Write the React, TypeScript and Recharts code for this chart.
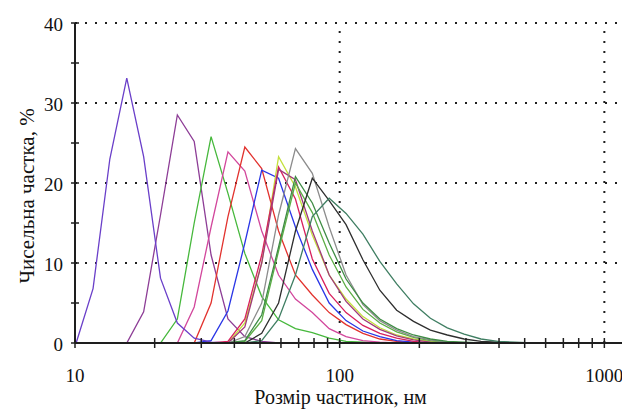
import React from 'react';
import { LineChart, Line, XAxis, YAxis, ReferenceLine, Label } from 'recharts';

// Size classes of the analyser, nm (log-spaced bins)
const sizes = [
  10.1, 11.7, 13.54, 15.69, 18.17, 21.04, 24.36, 28.21, 32.67, 37.84, 43.82, 50.75,
  58.77, 68.06, 78.82, 91.28, 105.7, 122.4, 141.8, 164.2, 190.1, 220.2, 255.0, 295.3,
  342.0, 396.1, 458.7, 531.2, 615.1, 712.4, 825.0, 955.4, 1106, 1281,
];

// Number fraction, % for each sample
const sample01 = [0, 6.8, 23.0, 33.1, 23.3, 8.1, 2.5, 0.6, 0.1, 0, 0, 0, 0, 0, 0, 0, 0, 0, 0, 0, 0, 0, 0, 0, 0, 0, 0, 0, 0, 0, 0, 0, 0, 0];
const sample02 = [0, 0, 0, 0, 3.9, 16.0, 28.5, 25.2, 11.0, 3.0, 0.8, 0.2, 0, 0, 0, 0, 0, 0, 0, 0, 0, 0, 0, 0, 0, 0, 0, 0, 0, 0, 0, 0, 0, 0];
const sample03 = [0, 0, 0, 0, 0, 0, 3.0, 15.0, 25.8, 18.7, 11.2, 5.8, 2.9, 1.8, 1.3, 0.6, 0.2, 0.1, 0, 0, 0, 0, 0, 0, 0, 0, 0, 0, 0, 0, 0, 0, 0, 0];
const sample04 = [0, 0, 0, 0, 0, 0, 0, 4.5, 14.5, 23.9, 21.5, 14.0, 8.5, 5.5, 3.8, 1.8, 0.8, 0.3, 0.1, 0, 0, 0, 0, 0, 0, 0, 0, 0, 0, 0, 0, 0, 0, 0];
const sample05 = [0, 0, 0, 0, 0, 0, 0, 0, 5.0, 15.8, 24.5, 21.8, 14.0, 8.5, 6.0, 3.8, 2.3, 1.2, 0.5, 0.2, 0, 0, 0, 0, 0, 0, 0, 0, 0, 0, 0, 0, 0, 0];
const sample06 = [0, 0, 0, 0, 0, 0, 0, 0, 0.3, 4.0, 12.5, 21.6, 20.6, 14.5, 9.2, 5.0, 2.8, 1.5, 0.8, 0.3, 0.1, 0, 0, 0, 0, 0, 0, 0, 0, 0, 0, 0, 0, 0];
const sample07 = [0, 0, 0, 0, 0, 0, 0, 0, 0, 0, 2.5, 10.0, 23.3, 19.5, 13.5, 8.5, 5.5, 3.3, 1.9, 1.0, 0.5, 0.2, 0.1, 0, 0, 0, 0, 0, 0, 0, 0, 0, 0, 0];
const sample08 = [0, 0, 0, 0, 0, 0, 0, 0, 0, 0.2, 3.0, 11.0, 22.0, 18.0, 10.5, 6.2, 3.8, 2.2, 1.2, 0.6, 0.2, 0, 0, 0, 0, 0, 0, 0, 0, 0, 0, 0, 0, 0];
const sample09 = [0, 0, 0, 0, 0, 0, 0, 0, 0, 0, 2.0, 10.0, 21.7, 20.4, 14.0, 8.5, 5.2, 3.0, 1.7, 0.9, 0.4, 0.1, 0, 0, 0, 0, 0, 0, 0, 0, 0, 0, 0, 0];
const sample10 = [0, 0, 0, 0, 0, 0, 0, 0, 0, 0, 0.2, 2.8, 11.5, 20.0, 16.3, 11.0, 7.0, 4.2, 2.5, 1.4, 0.7, 0.3, 0.1, 0, 0, 0, 0, 0, 0, 0, 0, 0, 0, 0];
const sample11 = [0, 0, 0, 0, 0, 0, 0, 0, 0, 0, 0.8, 5.0, 16.0, 24.3, 21.2, 14.5, 8.5, 4.8, 2.8, 1.6, 0.8, 0.4, 0.1, 0, 0, 0, 0, 0, 0, 0, 0, 0, 0, 0];
const sample12 = [0, 0, 0, 0, 0, 0, 0, 0, 0, 0, 0.3, 3.5, 12.0, 20.8, 17.5, 12.5, 8.0, 5.0, 3.0, 1.8, 1.0, 0.5, 0.2, 0.1, 0, 0, 0, 0, 0, 0, 0, 0, 0, 0];
const sample13 = [0, 0, 0, 0, 0, 0, 0, 0, 0, 0, 0, 1.2, 5.0, 14.0, 20.6, 17.8, 14.8, 10.4, 6.6, 4.1, 2.7, 1.6, 1.0, 0.5, 0.2, 0.1, 0, 0, 0, 0, 0, 0, 0, 0];
const sample14 = [0, 0, 0, 0, 0, 0, 0, 0, 0, 0, 0, 0.3, 3.0, 8.5, 15.8, 18.1, 16.2, 13.6, 10.2, 7.4, 4.9, 3.1, 1.9, 1.1, 0.5, 0.2, 0.1, 0, 0, 0, 0, 0, 0, 0];

const samples = [
  sample01, sample02, sample03, sample04, sample05, sample06, sample07,
  sample08, sample09, sample10, sample11, sample12, sample13, sample14,
];

const lineColors = [
  '#6a3fc9', '#8d3d96', '#46b83c', '#d2479c', '#e2322e', '#2a36e6', '#c4e03c',
  '#d8215e', '#a03a78', '#5cae45', '#8c8c8c', '#3f8c45', '#2e2e2e', '#3f7e62',
];

const xTicks = [10, 20, 30, 40, 50, 60, 70, 80, 90, 100, 200, 300, 400, 500, 600, 700, 800, 900, 1000];
const xLabels = [10, 100, 1000];
const yTicks = [0, 5, 10, 15, 20, 25, 30, 35, 40];
const yGrid = [10, 20, 30, 40];
const xGrid = [100, 1000];

const rows = sizes.map((size, i) => {
  const row: Record<string, number> = { size };
  samples.forEach((s, k) => {
    row[`s${k}`] = s[i];
  });
  return row;
});

// plot box edges in svg coordinates
const PLOT_LEFT = 67;
const PLOT_BOTTOM = 335;
const INK = '#1e1e1e';
const SERIF = '"Liberation Serif", "Times New Roman", "DejaVu Serif", serif';

const XTick = (props: any) => {
  const { x, payload } = props;
  const v = payload.value;
  return (
    <g>
      <line x1={x} x2={x} y1={PLOT_BOTTOM - 5} y2={PLOT_BOTTOM + 5} stroke={INK} strokeWidth={1.5} />
      {xLabels.includes(v) && (
        <text x={x} y={PLOT_BOTTOM + 39} textAnchor="middle" fontSize={19} fontFamily={SERIF} fill="#111">
          {v}
        </text>
      )}
    </g>
  );
};

const YTick = (props: any) => {
  const { y, payload } = props;
  const v = payload.value;
  return (
    <g>
      <line x1={PLOT_LEFT - 4} x2={PLOT_LEFT + 4} y1={y} y2={y} stroke={INK} strokeWidth={1.5} />
      {v % 10 === 0 && (
        <text x={PLOT_LEFT - 12} y={y + 7.5} textAnchor="end" fontSize={19} fontFamily={SERIF} fill="#111">
          {v}
        </text>
      )}
    </g>
  );
};

const XTitle = (props: any) => {
  const { viewBox } = props;
  return (
    <text
      x={viewBox.x + viewBox.width / 2 - 12}
      y={PLOT_BOTTOM + 61}
      textAnchor="middle"
      fontSize={20}
      fontFamily={SERIF}
      fill="#111"
    >
      Розмір частинок, нм
    </text>
  );
};

const YTitle = (props: any) => {
  const { viewBox } = props;
  const cx = viewBox.x + 18;
  const cy = viewBox.y + viewBox.height / 2 + 13;
  return (
    <text
      transform={`translate(${cx},${cy}) rotate(-90)`}
      textAnchor="middle"
      fontSize={21}
      fontFamily={SERIF}
      fill="#111"
    >
      Чисельна частка, %
    </text>
  );
};

// draw the first sample last so the zero baseline keeps its colour
const drawOrder = [1, 2, 3, 4, 5, 6, 7, 8, 9, 10, 11, 12, 13, 0];

export default function App() {
  return (
    <div style={{ width: 622, height: 404, fontFamily: SERIF }}>
      <LineChart
        width={622}
        height={404}
        data={rows}
        margin={{ top: 15, right: 0, bottom: 0, left: 8 }}
      >
        <XAxis
          type="number"
          dataKey="size"
          scale="log"
          domain={[10, 1250]}
          allowDataOverflow
          ticks={xTicks}
          interval={0}
          tick={XTick}
          tickLine={false}
          axisLine={{ stroke: INK, strokeWidth: 2 }}
          height={69}
        >
          <Label content={XTitle} />
        </XAxis>
        <YAxis
          type="number"
          domain={[0, 40]}
          ticks={yTicks}
          interval={0}
          tick={YTick}
          tickLine={false}
          axisLine={{ stroke: INK, strokeWidth: 2 }}
          width={59}
        >
          <Label content={YTitle} />
        </YAxis>

        {yGrid.map((v) => (
          <ReferenceLine key={`h${v}`} y={v} stroke={INK} strokeWidth={2} strokeDasharray="2 8" />
        ))}
        {xGrid.map((v) => (
          <ReferenceLine key={`v${v}`} x={v} stroke={INK} strokeWidth={2} strokeDasharray="2 8" />
        ))}

        {drawOrder.map((k) => (
          <Line
            key={k}
            type="linear"
            dataKey={`s${k}`}
            stroke={lineColors[k]}
            strokeWidth={1.3}
            dot={false}
            activeDot={false}
            isAnimationActive={false}
          />
        ))}
      </LineChart>
    </div>
  );
}
